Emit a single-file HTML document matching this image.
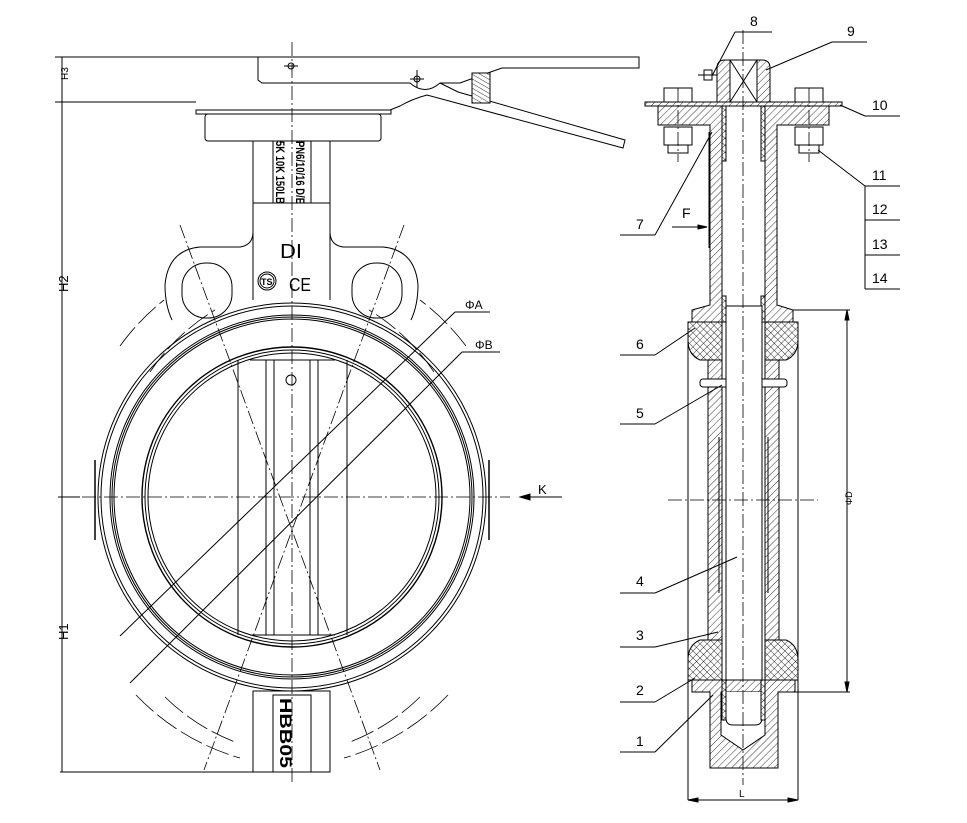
<!DOCTYPE html>
<html><head><meta charset="utf-8"><style>
html,body{margin:0;padding:0;background:#fff;}
svg{display:block;}
text{font-family:"Liberation Sans",sans-serif;fill:#000;}
</style></head><body>
<svg width="967" height="823" viewBox="0 0 967 823" xmlns="http://www.w3.org/2000/svg">
<defs>
<pattern id="h" width="5" height="5" patternUnits="userSpaceOnUse" patternTransform="rotate(45)">
<rect width="5" height="5" fill="#fff"/><line x1="0" y1="0" x2="0" y2="5" stroke="#000" stroke-width="0.8"/></pattern>
<pattern id="x" width="5" height="5" patternUnits="userSpaceOnUse" patternTransform="rotate(45)">
<rect width="5" height="5" fill="#fff"/><line x1="0" y1="0" x2="0" y2="5" stroke="#000" stroke-width="0.8"/><line x1="0" y1="0" x2="5" y2="0" stroke="#000" stroke-width="0.8"/></pattern>
<pattern id="hh" width="4" height="4" patternUnits="userSpaceOnUse" patternTransform="rotate(30)">
<rect width="4" height="4" fill="#fff"/><line x1="0" y1="0" x2="4" y2="0" stroke="#000" stroke-width="0.8"/></pattern>
</defs>
<g fill="none" stroke="#000" stroke-width="1">
<path d="M258 57 L639 57 L639 68 L502 68 L482 75 L460 83 L440 83 Q425 96 410 83 L262 83 L258 80 Z"/>
<path d="M440 83 L458 92 L625 140 L623 148 L427 95 Q412 99 400 106 L390 110"/>
<rect x="472" y="73" width="18" height="30" fill="url(#hh)"/>
<circle cx="291" cy="66" r="3"/><line x1="284" y1="66" x2="298" y2="66"/>
<circle cx="417" cy="79" r="3"/><line x1="410" y1="79" x2="424" y2="79"/><line x1="417" y1="70" x2="417" y2="88"/>
<rect x="196" y="110" width="195" height="4"/>
<rect x="205" y="114" width="176" height="27" rx="3"/>
<line x1="62" y1="57" x2="62" y2="772"/>
<line x1="55" y1="57" x2="258" y2="57"/>
<line x1="55" y1="102" x2="196" y2="102"/>
<line x1="58" y1="497" x2="80" y2="497"/>
<line x1="60" y1="772" x2="330" y2="772"/>
<path d="M253 141 L253 232 Q253 245 240 247 L200 247 Q168 250 165 285 Q165 305 172 320"/>
<path d="M330 141 L330 232 Q330 245 343 247 L383 247 Q415 250 418 285 Q418 305 411 320"/>
<rect x="273" y="141" width="38" height="62"/>
<line x1="253" y1="203" x2="330" y2="203"/>
<line x1="253" y1="203" x2="253" y2="300"/><line x1="330" y1="203" x2="330" y2="300"/>
<rect x="182" y="263" width="50" height="55" rx="24"/>
<rect x="352" y="263" width="50" height="55" rx="24"/>
<circle cx="292" cy="497" r="194"/>
<circle cx="292" cy="497" r="191"/>
<circle cx="292" cy="497" r="182"/>
<circle cx="292" cy="497" r="180"/>
<circle cx="292" cy="497" r="178"/>
<circle cx="292" cy="497" r="150" stroke-width="1.4"/>
<circle cx="292" cy="497" r="147"/>
<circle cx="292" cy="497" r="144"/>
<path d="M95 460 L95 540 M489 460 L489 540" stroke-width="1.5"/>
<line x1="238" y1="360" x2="238" y2="635"/><line x1="266" y1="360" x2="266" y2="635"/><line x1="274" y1="360" x2="274" y2="635"/>
<line x1="310" y1="360" x2="310" y2="635"/><line x1="318" y1="360" x2="318" y2="635"/><line x1="347" y1="360" x2="347" y2="635"/>
<line x1="250" y1="360" x2="335" y2="360"/><line x1="250" y1="635" x2="335" y2="635"/>
<circle cx="291" cy="380" r="5"/>
<rect x="253" y="691" width="77" height="81"/>
<rect x="273" y="695" width="38" height="77"/>
<circle cx="267" cy="281" r="9"/><circle cx="267" cy="281" r="7"/>
<g stroke-dasharray="14 3 2 3" stroke-width="0.8">
<line x1="292" y1="42" x2="292" y2="785"/>
<line x1="60" y1="497" x2="510" y2="497"/>
<line x1="180" y1="225" x2="380" y2="770"/>
<line x1="404" y1="225" x2="204" y2="770"/>
</g>
<g stroke-dasharray="24 5" stroke-width="0.8">
<path d="M120 346 A232 232 0 0 1 164 300"/><path d="M466 346 A232 232 0 0 0 420 300"/>
<path d="M136 695 A232 232 0 0 0 240 758"/><path d="M448 695 A232 232 0 0 1 344 758"/>
<path d="M150 372 A205 205 0 0 1 215 310"/><path d="M434 372 A205 205 0 0 0 369 310"/>
<path d="M165 697 A205 205 0 0 0 235 742"/><path d="M420 697 A205 205 0 0 1 350 742"/>
</g>
<line x1="120" y1="636" x2="455" y2="312"/><line x1="455" y1="312" x2="490" y2="312"/>
<line x1="130" y1="683" x2="462" y2="352"/><line x1="462" y1="352" x2="500" y2="352"/>
<line x1="520" y1="497" x2="562" y2="497"/>
<path d="M520 497 L530 494 L530 500 Z" fill="#000"/>
</g>
<g font-size="13">
<text x="465" y="309" font-size="12">ΦA</text>
<text x="475" y="349" font-size="12">ΦB</text>
<text x="538" y="494">K</text>
<text transform="translate(68,80) rotate(-90)" font-size="10">H3</text>
<text transform="translate(68,292) rotate(-90)" font-size="13">H2</text>
<text transform="translate(68,640) rotate(-90)" font-size="13">H1</text>
<text transform="translate(276,141) rotate(90)" font-size="12" font-weight="bold" textLength="63" lengthAdjust="spacingAndGlyphs">5K 10K 150LB</text>
<text transform="translate(296,141) rotate(90)" font-size="12" font-weight="bold" textLength="63" lengthAdjust="spacingAndGlyphs">PN6/10/16 D/E</text>
<text x="280" y="258" font-size="20" textLength="22" lengthAdjust="spacingAndGlyphs">DI</text>
<text x="261" y="285" font-size="9" font-weight="bold">TS</text>
<text x="289" y="291" font-size="18" textLength="22" lengthAdjust="spacingAndGlyphs">CE</text>
<text transform="translate(280,698) rotate(90)" font-size="17" font-weight="bold" textLength="70" lengthAdjust="spacingAndGlyphs">HBB05</text>
</g>

<g fill="none" stroke="#000" stroke-width="1">
<path d="M717 102 L717 68 Q717 60 725 60 L762 60 Q770 60 770 68 L770 102 Z" fill="url(#h)"/>
<rect x="730" y="60" width="27" height="42" fill="#fff"/>
<line x1="730" y1="60" x2="757" y2="102"/><line x1="757" y1="60" x2="730" y2="102"/>
<rect x="704" y="70" width="8" height="10"/><line x1="698" y1="75" x2="717" y2="75"/>
<rect x="645" y="102" width="197" height="4" fill="url(#h)"/>
<path d="M658 106 L829 106 L829 125 L777 125 L777 305 L793 310 L793 322 L692 322 L692 310 L710 305 L710 125 L658 125 Z" fill="url(#h)"/>
<rect x="664" y="88" width="28" height="14"/><rect x="795" y="88" width="28" height="14"/>
<rect x="664" y="127" width="28" height="18"/><rect x="795" y="127" width="28" height="18"/>
<rect x="668" y="145" width="20" height="8"/><rect x="799" y="145" width="20" height="8"/>
<rect x="722" y="106" width="43" height="200" fill="#fff"/>
<rect x="722" y="106" width="4" height="55" fill="url(#x)"/><rect x="761" y="106" width="4" height="55" fill="url(#x)"/>
<rect x="722" y="296" width="4" height="26" fill="url(#x)"/><rect x="761" y="296" width="4" height="26" fill="url(#x)"/>
<line x1="709" y1="132" x2="709" y2="248"/><line x1="777" y1="150" x2="777" y2="290"/>
<path d="M688 322 L722 322 L722 360 L700 360 Q688 355 688 340 Z" fill="url(#x)"/>
<path d="M765 322 L798 322 L798 340 Q798 355 786 360 L765 360 Z" fill="url(#x)"/>
<line x1="688" y1="322" x2="688" y2="800"/><line x1="798" y1="322" x2="798" y2="800"/>
<rect x="708" y="360" width="14" height="280" fill="url(#h)"/>
<rect x="765" y="360" width="14" height="280" fill="url(#h)"/>
<rect x="700" y="379" width="87" height="8" rx="3" fill="#fff"/>
<rect x="726" y="306" width="36" height="420" fill="#fff"/>
<line x1="719" y1="437" x2="719" y2="593"/><line x1="768" y1="437" x2="768" y2="593"/>
<path d="M688 680 L722 680 L722 640 L700 640 Q688 645 688 660 Z" fill="url(#x)"/>
<path d="M765 680 L798 680 L798 660 Q798 645 786 640 L765 640 Z" fill="url(#x)"/>
<path d="M692 680 L795 680 L795 692 L778 692 L778 768 L710 768 L710 692 L692 692 Z" fill="url(#h)"/>
<path d="M721 692 L721 735 L743 750 L765 735 L765 692 Z" fill="#fff"/>
<path d="M726 692 L726 718 Q726 725 733 725 L755 725 Q762 725 762 718 L762 692" fill="#fff"/>
<rect x="722" y="680" width="4" height="40" fill="url(#x)"/><rect x="761" y="680" width="4" height="40" fill="url(#x)"/>
<g stroke-dasharray="14 3 2 3" stroke-width="0.8">
<line x1="743" y1="30" x2="743" y2="785"/>
<line x1="668" y1="500" x2="818" y2="500"/>
<line x1="678" y1="88" x2="678" y2="162"/><line x1="809" y1="88" x2="809" y2="162"/>
</g>
<line x1="793" y1="310" x2="850" y2="310"/><line x1="795" y1="692" x2="850" y2="692"/>
<line x1="847" y1="310" x2="847" y2="692"/>
<path d="M847 310 L845 320 L849 320 Z M847 692 L845 682 L849 682 Z" fill="#000"/>
<line x1="688" y1="800" x2="798" y2="800"/>
<path d="M688 800 L698 798 L698 802 Z M798 800 L788 798 L788 802 Z" fill="#000"/>
<line x1="672" y1="227" x2="705" y2="227"/><path d="M707 227 L698 225 L698 229 Z" fill="#000"/>
<line x1="735" y1="32" x2="772" y2="32"/><line x1="735" y1="32" x2="712" y2="76"/>
<line x1="832" y1="42" x2="867" y2="42"/><line x1="832" y1="42" x2="766" y2="70"/>
<line x1="865" y1="116" x2="900" y2="116"/><line x1="865" y1="116" x2="840" y2="105"/>
<line x1="865" y1="186" x2="900" y2="186"/><line x1="865" y1="186" x2="818" y2="150"/>
<line x1="865" y1="186" x2="865" y2="289"/>
<line x1="865" y1="220" x2="900" y2="220"/><line x1="865" y1="255" x2="900" y2="255"/><line x1="865" y1="289" x2="900" y2="289"/>
<line x1="620" y1="235" x2="655" y2="235"/><line x1="655" y1="235" x2="712" y2="132"/>
<line x1="620" y1="355" x2="655" y2="355"/><line x1="655" y1="355" x2="695" y2="328"/>
<line x1="620" y1="424" x2="655" y2="424"/><line x1="655" y1="424" x2="722" y2="385"/>
<line x1="620" y1="593" x2="655" y2="593"/><line x1="655" y1="593" x2="737" y2="557"/>
<line x1="620" y1="647" x2="655" y2="647"/><line x1="655" y1="647" x2="718" y2="632"/>
<line x1="620" y1="702" x2="655" y2="702"/><line x1="655" y1="702" x2="695" y2="678"/>
<line x1="620" y1="752" x2="655" y2="752"/><line x1="655" y1="752" x2="713" y2="695"/>
</g>
<g font-size="14">
<text x="750" y="26">8</text>
<text x="847" y="36">9</text>
<text x="872" y="110">10</text>
<text x="872" y="180">11</text>
<text x="872" y="214">12</text>
<text x="872" y="249">13</text>
<text x="872" y="283">14</text>
<text x="636" y="229">7</text>
<text x="682" y="218">F</text>
<text x="636" y="349">6</text>
<text x="636" y="418">5</text>
<text x="636" y="586">4</text>
<text x="636" y="640">3</text>
<text x="636" y="695">2</text>
<text x="636" y="746">1</text>
<text x="739" y="797" font-size="10">L</text>
<text transform="translate(852,505) rotate(-90)" font-size="9">ΦD</text>
</g>
</svg>
</body></html>
